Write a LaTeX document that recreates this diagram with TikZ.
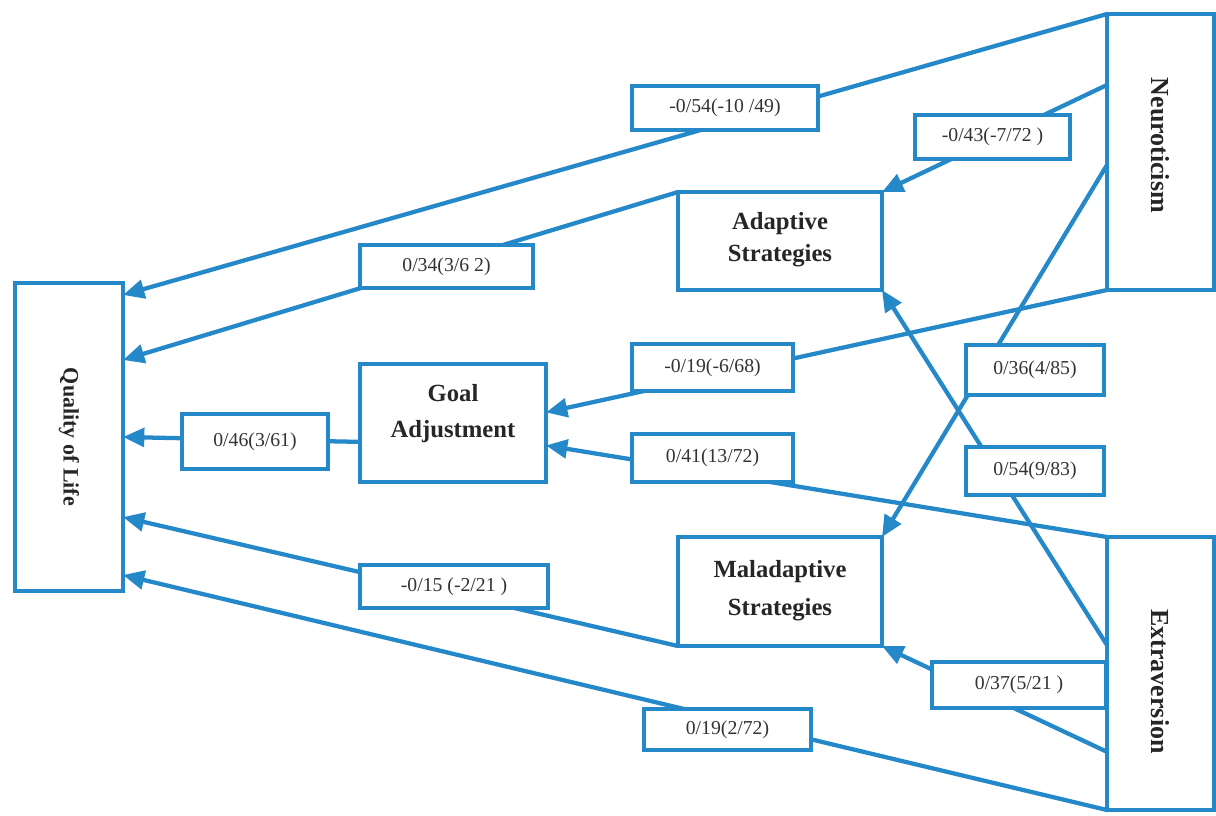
\documentclass[tikz,border=0pt]{standalone}
\usepackage{fontspec}
\setmainfont{Liberation Serif}
\usetikzlibrary{arrows.meta,calc,backgrounds}
\definecolor{lb}{RGB}{37,137,201}
\begin{document}
\begin{tikzpicture}[x=0.75pt,y=-0.75pt,
  box/.style 2 args={draw=lb,line width=3.5pt,fill=white,minimum width=#1*0.75pt,minimum height=#2*0.75pt,inner sep=0pt,outer sep=0pt},
  lab/.style 2 args={draw=lb,line width=3.5pt,fill=white,minimum width=#1*0.75pt,minimum height=#2*0.75pt,inner sep=0pt,outer sep=0pt,font=\fontsize{14.8}{16}\selectfont,text=black!80},
  conn/.style={draw=lb,line width=3.2pt,-{Triangle[length=16pt,width=14pt]}},
  ttl/.style={font=\bfseries\fontsize{18.5}{23.5}\selectfont,align=center,text=black!85},
  side/.style={font=\bfseries\fontsize{19.5}{22}\selectfont,text=black!85}]
\useasboundingbox (0,0) rectangle (1216,815);
% main boxes
\node[box={108}{308},label={[rotate=-90,font=\bfseries\fontsize{16.5}{20}\selectfont,text=black!85]center:Quality of Life}] (qol) at (69,437) {};
\node[box={107}{276},label={[side,yshift=5pt,rotate=-90]center:Neuroticism}] (neuro) at (1160.5,152) {};
\node[box={107}{273},label={[side,yshift=-6pt,rotate=-90]center:Extraversion}] (extra) at (1160.5,673.5) {};
\node[box={204}{98},label={[ttl,yshift=1pt]center:Adaptive\\Strategies}] (adapt) at (780,241) {};
\node[box={186}{118},label={[ttl,font=\bfseries\fontsize{18.5}{27}\selectfont,yshift=7pt]center:Goal\\Adjustment}] (goal) at (453,423) {};
\node[box={204}{109},label={[ttl,font=\bfseries\fontsize{18.5}{28.5}\selectfont,yshift=0.5pt]center:Maladaptive\\Strategies}] (malad) at (780,591.5) {};
% coefficient labels
\node[lab={186}{44}] (l1) at (725,108) {-0/54(-10 /49)};
\node[lab={155}{44}] (l2) at (992.5,137) {-0/43(-7/72 )};
\node[lab={173}{43}] (l3) at (446.5,266.5) {0/34(3/6 2)};
\node[lab={161}{47}] (l4) at (712.5,367.5) {-0/19(-6/68)};
\node[lab={138}{50}] (l5) at (1035,370) {0/36(4/85)};
\node[lab={146}{55}] (l6) at (255,441.5) {0/46(3/61)};
\node[lab={161}{48}] (l7) at (712.5,458) {0/41(13/72)};
\node[lab={138}{48}] (l8) at (1035,471) {0/54(9/83)};
\node[lab={188}{43}] (l9) at (454,586.5) {-0/15 (-2/21 )};
\node[lab={174}{46}] (l10) at (1019,685) {0/37(5/21 )};
\node[lab={167}{41}] (l11) at (727.5,729.5) {0/19(2/72)};
% connectors
\begin{pgfonlayer}{background}
\draw[conn] (neuro.north west) -- ($(qol.north east)!0.039!(qol.south east)$);
\draw[conn] ($(neuro.north west)!0.257!(neuro.south west)$) -- (adapt.north east);
\draw[conn] (adapt.north west) -- ($(qol.north east)!0.25!(qol.south east)$);
\draw[conn] ($(goal.north west)!0.66!(goal.south west)$) -- ($(qol.north east)!0.5!(qol.south east)$);
\draw[conn] (neuro.south west) -- ($(goal.north east)!0.41!(goal.south east)$);
\draw[conn] (extra.north west) -- ($(goal.north east)!0.69!(goal.south east)$);
\draw[conn] ($(neuro.north west)!0.547!(neuro.south west)$) -- (malad.north east);
\draw[conn] ($(extra.north west)!0.396!(extra.south west)$) -- (adapt.south east);
\draw[conn] (malad.south west) -- ($(qol.north east)!0.76!(qol.south east)$);
\draw[conn] ($(extra.north west)!0.787!(extra.south west)$) -- (malad.south east);
\draw[conn] (extra.south west) -- ($(qol.north east)!0.948!(qol.south east)$);
\end{pgfonlayer}
\end{tikzpicture}
\end{document}
